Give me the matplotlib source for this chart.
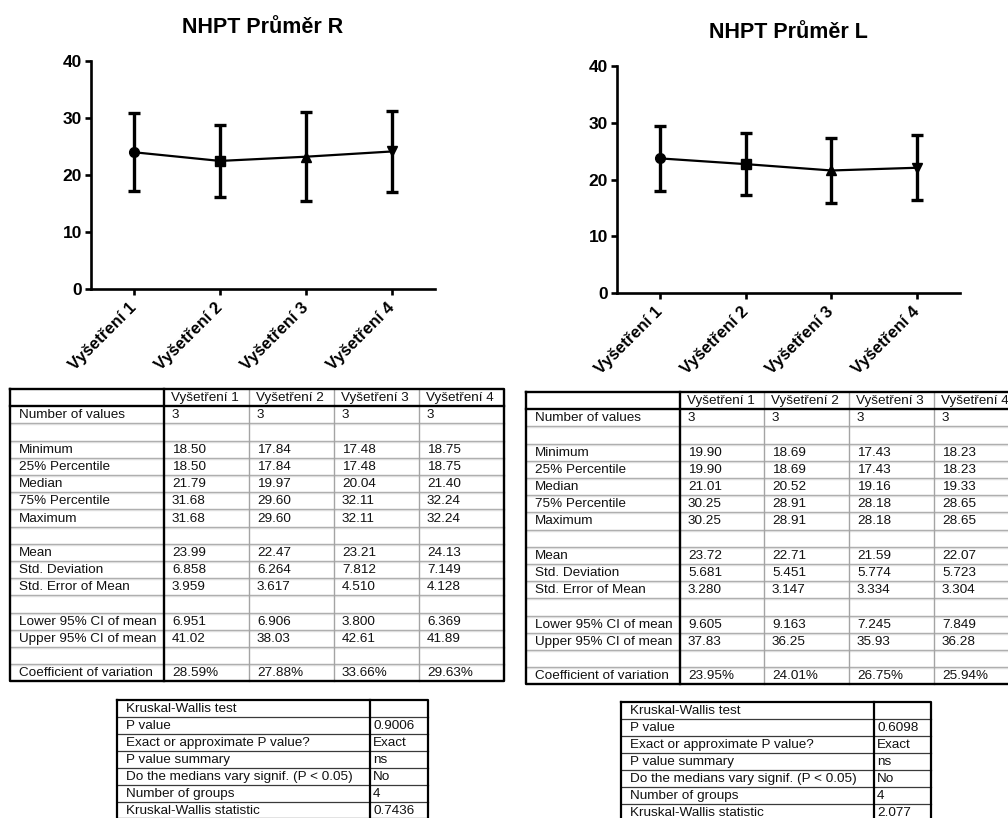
import numpy as np
import matplotlib
matplotlib.use("Agg")
import matplotlib.pyplot as plt

plt.rcParams['font.family'] = ['Liberation Sans', 'DejaVu Sans']

# ---------------- data ----------------
categories = ['Vyšetření 1', 'Vyšetření 2', 'Vyšetření 3', 'Vyšetření 4']
markers = ['o', 's', '^', 'v']

title_r = 'NHPT Průměr R'
r_n = [3, 3, 3, 3]
r_min = [18.50, 17.84, 17.48, 18.75]
r_p25 = [18.50, 17.84, 17.48, 18.75]
r_median = [21.79, 19.97, 20.04, 21.40]
r_p75 = [31.68, 29.60, 32.11, 32.24]
r_max = [31.68, 29.60, 32.11, 32.24]
r_mean = [23.99, 22.47, 23.21, 24.13]
r_sd = [6.858, 6.264, 7.812, 7.149]
r_sem = [3.959, 3.617, 4.510, 4.128]
r_lower = [6.951, 6.906, 3.800, 6.369]
r_upper = [41.02, 38.03, 42.61, 41.89]
r_cv = [28.59, 27.88, 33.66, 29.63]

title_l = 'NHPT Průměr L'
l_n = [3, 3, 3, 3]
l_min = [19.90, 18.69, 17.43, 18.23]
l_p25 = [19.90, 18.69, 17.43, 18.23]
l_median = [21.01, 20.52, 19.16, 19.33]
l_p75 = [30.25, 28.91, 28.18, 28.65]
l_max = [30.25, 28.91, 28.18, 28.65]
l_mean = [23.72, 22.71, 21.59, 22.07]
l_sd = [5.681, 5.451, 5.774, 5.723]
l_sem = [3.280, 3.147, 3.334, 3.304]
l_lower = [9.605, 9.163, 7.245, 7.849]
l_upper = [37.83, 36.25, 35.93, 36.28]
l_cv = [23.95, 24.01, 26.75, 25.94]

row_labels = ['Number of values', '', 'Minimum', '25% Percentile', 'Median',
              '75% Percentile', 'Maximum', '', 'Mean', 'Std. Deviation',
              'Std. Error of Mean', '', 'Lower 95% CI of mean',
              'Upper 95% CI of mean', '', 'Coefficient of variation']

kw_labels = ['Kruskal-Wallis test', 'P value', 'Exact or approximate P value?',
             'P value summary', 'Do the medians vary signif. (P < 0.05)',
             'Number of groups', 'Kruskal-Wallis statistic']
kw_r_values = ['', '0.9006', 'Exact', 'ns', 'No', '4', '0.7436']
kw_l_values = ['', '0.6098', 'Exact', 'ns', 'No', '4', '2.077']

# ---------------- helpers ----------------
W, H = 1008, 818
fig = plt.figure(figsize=(W / 100, H / 100), dpi=100)


def px_axes(x0, y0, x1, y1):
    return fig.add_axes([x0 / W, 1 - y1 / H, (x1 - x0) / W, (y1 - y0) / H])


def sig4(v):
    if v == 0:
        return '0'
    d = int(np.floor(np.log10(abs(v)))) + 1
    dec = max(0, 4 - d)
    return f'{v:.{dec}f}'


def draw_chart(rect, title, mean, sd):
    ax = px_axes(*rect)
    x = np.arange(len(categories))
    ax.errorbar(x, mean, yerr=sd, fmt='none', ecolor='black',
                elinewidth=2.4, capsize=4.2, capthick=2.4, zorder=2)
    ax.plot(x, mean, color='black', lw=1.6, zorder=3)
    for xi, yi, m in zip(x, mean, markers):
        ax.plot([xi], [yi], marker=m, color='black', ms=7, zorder=4)
    ax.set_xlim(-0.5, 3.5)
    ax.set_ylim(0, 40)
    ax.set_yticks([0, 10, 20, 30, 40])
    ax.set_xticks(x)
    ax.set_xticklabels(categories, rotation=45, ha='right', va='center',
                       rotation_mode='anchor', fontweight='bold', fontsize=12)
    for lab in ax.get_yticklabels():
        lab.set_fontweight('bold')
        lab.set_fontsize(12.5)
    for s in ['top', 'right']:
        ax.spines[s].set_visible(False)
    for s in ['left', 'bottom']:
        ax.spines[s].set_linewidth(1.9)
    ax.tick_params(direction='out', length=4.5, width=1.9, pad=2)
    ax.tick_params(axis='x', pad=7)
    ax.set_title(title, fontweight='bold', fontsize=15.5, pad=20)
    ax.patch.set_visible(False)


def draw_stats_table(x0, y0, col_w, row_h, cols):
    n_rows = 1 + len(row_labels)
    total_w = sum(col_w)
    h = n_rows * row_h
    ax = px_axes(x0, y0, x0 + total_w, y0 + h)
    ax.set_xlim(0, total_w)
    ax.set_ylim(h, 0)
    ax.axis('off')
    edges = np.concatenate([[0], np.cumsum(col_w)])
    for i in range(2, n_rows):
        ax.plot([0, total_w], [i * row_h] * 2, color='#a4a4a4', lw=1.0,
                clip_on=False, zorder=1)
        ax.plot([0, total_w], [i * row_h + 1] * 2, color='#dddddd', lw=1.0,
                clip_on=False, zorder=1)
    for e in edges[2:-1]:
        ax.plot([e, e], [0, h], color='#a4a4a4', lw=1.0, clip_on=False, zorder=1)
    k = dict(color='black', lw=1.7, clip_on=False, zorder=3)
    ax.plot([0, total_w, total_w, 0, 0], [0, 0, h, h, 0], **k)
    ax.plot([0, total_w], [row_h, row_h], **k)
    ax.plot([edges[1], edges[1]], [0, h], **k)
    fs = 9.7
    for j, c in enumerate(categories):
        ax.text(edges[j + 1] + 7, 0.5 * row_h + 0.5, c, ha='left', va='center',
                fontsize=fs, color='#111111')
    for i, lab in enumerate(row_labels):
        yc = (i + 1.5) * row_h + 0.5
        ax.text(9, yc, lab, ha='left', va='center', fontsize=fs, color='#111111')
        if lab == '':
            continue
        for j in range(len(categories)):
            ax.text(edges[j + 1] + 8, yc, cols[i][j], ha='left', va='center',
                    fontsize=fs, color='#111111')


def table_cells(n, mn, p25, med, p75, mx, mean, sd, sem, lo, up, cv):
    blank = [''] * 4
    return [[str(v) for v in n], blank,
            [sig4(v) for v in mn], [sig4(v) for v in p25], [sig4(v) for v in med],
            [sig4(v) for v in p75], [sig4(v) for v in mx], blank,
            [sig4(v) for v in mean], [sig4(v) for v in sd], [sig4(v) for v in sem],
            blank, [sig4(v) for v in lo], [sig4(v) for v in up], blank,
            [sig4(v) + '%' for v in cv]]


def draw_kw_table(x0, y0, col_w, row_h, values):
    n_rows = len(kw_labels)
    total_w = sum(col_w)
    h = n_rows * row_h
    ax = px_axes(x0, y0, x0 + total_w, y0 + h)
    ax.set_xlim(0, total_w)
    ax.set_ylim(h, 0)
    ax.axis('off')
    for i in range(1, n_rows):
        ax.plot([0, total_w], [i * row_h] * 2, color='#3a3a3a', lw=0.9,
                clip_on=False, zorder=1)
    k = dict(color='black', lw=1.6, clip_on=False, zorder=3)
    ax.plot([0, total_w, total_w, 0, 0], [0, 0, h, h, 0], **k)
    ax.plot([col_w[0], col_w[0]], [0, h], **k)
    fs = 9.7
    for i, (lab, val) in enumerate(zip(kw_labels, values)):
        yc = (i + 0.5) * row_h + 0.5
        ax.text(9, yc, lab, ha='left', va='center', fontsize=fs, color='#111111')
        ax.text(col_w[0] + 3, yc, val, ha='left', va='center', fontsize=fs,
                color='#111111')


# ---------------- draw ----------------
draw_chart((91, 61, 435, 289), title_r, r_mean, r_sd)
draw_chart((617, 66, 960, 293), title_l, l_mean, l_sd)

cells_r = table_cells(r_n, r_min, r_p25, r_median, r_p75, r_max, r_mean, r_sd,
                      r_sem, r_lower, r_upper, r_cv)
cells_l = table_cells(l_n, l_min, l_p25, l_median, l_p75, l_max, l_mean, l_sd,
                      l_sem, l_lower, l_upper, l_cv)
draw_stats_table(10, 389, [154, 85, 85, 85, 85], 17.2, cells_r)
draw_stats_table(526, 392, [154, 84, 85, 85, 85], 17.2, cells_l)

draw_kw_table(117, 700, [253, 58], 17, kw_r_values)
draw_kw_table(621, 702, [253, 57], 17, kw_l_values)

fig.savefig('out.png', dpi=100)
